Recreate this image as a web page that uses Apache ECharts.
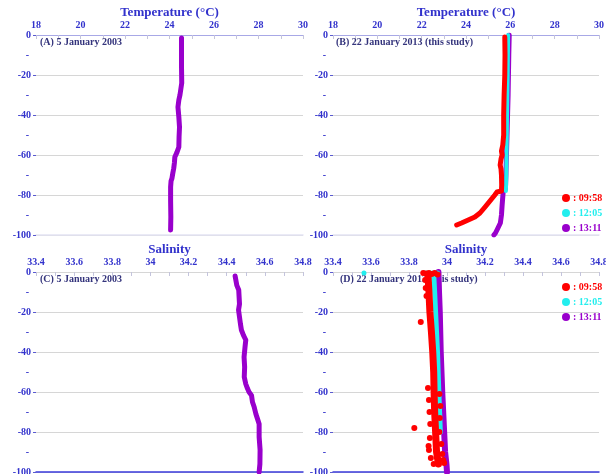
<!DOCTYPE html>
<html>
<head>
<meta charset="utf-8">
<script src="https://cdn.jsdelivr.net/npm/echarts@6/dist/echarts.min.js"></script>
<style>html,body{margin:0;padding:0;background:#fff}#c{width:606px;height:474px}</style>
</head>
<body>
<div id="c"></div>
<script>
// ---- Data ----
// Panel A: temperature, 5 January 2003
const depthA = [-1.5,-8,-16,-24,-30,-32.5,-36,-41,-46,-51,-56,-58.8,-61,-64,-66.7,-69,-71.7,-73,-76,-83,-91,-97.5];
const tempA  = [24.54,24.54,24.54,24.55,24.47,24.42,24.38,24.42,24.45,24.43,24.42,24.33,24.24,24.22,24.19,24.15,24.11,24.07,24.05,24.05,24.06,24.05];
// Panel B: temperature, 22 January 2013
const depthB1 = [-1,-10,-20,-30,-40,-50,-55,-58,-60,-62,-65,-67,-70,-75,-78,-78.5,-79,-80,-83,-86,-89,-91,-92.5,-94,-95];
const tempB1  = [25.75,25.76,25.75,25.72,25.70,25.70,25.66,25.60,25.63,25.58,25.54,25.58,25.60,25.61,25.60,25.40,25.35,25.30,25.08,24.86,24.63,24.40,24.10,23.80,23.58];
const depthB2 = [0,-20,-40,-60,-70,-78];
const tempB2  = [25.90,25.88,25.85,25.83,25.82,25.80];
const depthB3 = [0,-10,-30,-50,-70,-77,-78,-85,-90,-94,-97,-99,-100];
const tempB3  = [25.95,25.93,25.90,25.85,25.80,25.78,25.68,25.63,25.60,25.55,25.42,25.33,25.26];
// Panel C: salinity, 5 January 2003
const depthC = [-2,-6.7,-9,-16,-19,-22.5,-26,-29,-31.7,-34,-37.5,-42.5,-47.5,-52.5,-56,-58.3,-60,-61.7,-65,-67.5,-71,-73.3,-76,-82.5,-89,-96,-100];
const salC   = [34.444,34.453,34.463,34.467,34.462,34.467,34.472,34.477,34.488,34.5,34.496,34.491,34.494,34.492,34.5,34.509,34.517,34.53,34.535,34.544,34.553,34.561,34.57,34.57,34.575,34.574,34.57];
// Panel D: salinity, 22 January 2013
const depthD1 = [-2,-10,-20,-30,-40,-50,-60,-70,-80,-90,-96];
const salD1   = [33.90,33.905,33.91,33.918,33.925,33.93,33.932,33.935,33.94,33.945,33.955];
const dotDepthD1 = [-0.5,-0.8,-0.5,-1,-0.5,-1.2,-4,-8,-12,-25,-78,-87,-58,-61,-64,-67,-70,-73,-76,-80,-83,-86,-89,-91,-93,-94,-96,-95.5];
const dotSalD1   = [33.875,33.89,33.905,33.92,33.935,33.95,33.885,33.888,33.892,33.862,33.828,33.903,33.90,33.96,33.905,33.965,33.908,33.962,33.912,33.96,33.91,33.97,33.905,33.975,33.915,33.98,33.93,33.985];
const depthD2 = [-1,-10,-20,-40,-60,-75,-80];
const salD2   = [33.93,33.935,33.94,33.95,33.957,33.963,33.965];
const dotDepthD2 = [-0.5,-0.5,-0.5,-0.5,-0.5,-0.5,-0.5];
const dotSalD2   = [33.563,33.88,33.895,33.91,33.925,33.94,33.95];
const depthD3 = [0,-10,-20,-40,-60,-80,-90,-96,-100];
const salD3   = [33.955,33.958,33.962,33.967,33.975,33.985,33.99,33.997,34.0];

const times = ['09:58','12:05','13:11'];
const timeColors = ['#ff0000','#22eeee','#9900cc'];
const tempTitle = 'Temperature (°C)';
const salTitle = 'Salinity';
const panelLabels = ['(A) 5 January 2003','(B) 22 January 2013 (this study)','(C) 5 January 2003','(D) 22 January 2013 (this study)'];

// ---- Styles ----
const FONT = 'Liberation Serif';
const BLUE = '#3232cc';
const NAVY = '#34347c';
const zip = (xs, ys) => xs.map((x, i) => [x, ys[i]]);

const grids = [
  {left: 36, top: 35, width: 267, height: 200},
  {left: 333, top: 35, width: 266, height: 200},
  {left: 36, top: 272, width: 267, height: 200},
  {left: 333, top: 272, width: 266, height: 200}
].map(g => Object.assign({outerBoundsMode: 'none', containLabel: false}, g));

function topX(gi, min, max, interval, name, lineColor, showLine) {
  return {
    gridIndex: gi, type: 'value', position: 'top', min, max, interval,
    name, nameLocation: 'middle', nameGap: 16,
    nameTextStyle: {color: BLUE, fontFamily: FONT, fontWeight: 'bold', fontSize: 13},
    axisLine: {show: showLine, onZero: false, lineStyle: {color: lineColor, width: 1}},
    axisTick: {show: true, inside: true, length: 4, lineStyle: {color: '#c4c4dc'}},
    minorTick: {show: true, splitNumber: 2, length: 4, lineStyle: {color: '#c4c4dc'}},
    axisLabel: {color: BLUE, fontFamily: FONT, fontWeight: 'bold', fontSize: 10, margin: 5,
      formatter: v => String(Math.round(v * 10) / 10)},
    splitLine: {show: false}
  };
}
function bottomLine(gi, color) {
  return {gridIndex: gi, type: 'value', position: 'bottom', min: 0, max: 1,
    axisLine: {show: true, onZero: false, lineStyle: {color, width: 1.5}},
    axisTick: {show: false}, axisLabel: {show: false}, splitLine: {show: false}};
}
function mainY(gi) {
  return {
    gridIndex: gi, type: 'value', min: -100, max: 0, interval: 20, position: 'left',
    axisLine: {show: false, onZero: false},
    axisTick: {show: true, length: 3, lineStyle: {color: '#5a5ad0'}},
    axisLabel: {color: BLUE, fontFamily: FONT, fontWeight: 'bold', fontSize: 10, margin: 5},
    splitLine: {show: true, lineStyle: {color: '#d6d6d6', width: 1}}
  };
}
function dashY(gi) {
  return {
    gridIndex: gi, type: 'value', min: -100, max: 0, interval: 10, position: 'left',
    axisLine: {show: false, onZero: false}, axisTick: {show: false}, splitLine: {show: false},
    axisLabel: {color: BLUE, fontFamily: FONT, fontWeight: 'bold', fontSize: 10, margin: 7,
      formatter: v => (Math.round(v) % 20 !== 0 ? '-' : '')}
  };
}

const xAxis = [
  topX(0, 18, 30, 2, tempTitle, '#a8a8e6', true),
  topX(1, 18, 30, 2, tempTitle, '#a8a8e6', true),
  topX(2, 33.4, 34.8, 0.2, salTitle, '#ffffff', false),
  topX(3, 33.4, 34.8, 0.2, salTitle, '#ffffff', false),
  bottomLine(0, '#e4e4f4'),
  bottomLine(1, '#e4e4f4'),
  bottomLine(2, '#3b3bdc'),
  bottomLine(3, '#3b3bdc')
];
const yAxis = [mainY(0), mainY(1), mainY(2), mainY(3), dashY(0), dashY(1), dashY(2), dashY(3)];

function lineSeries(name, xi, data, color, width) {
  return {name, type: 'line', xAxisIndex: xi, yAxisIndex: xi, data, showSymbol: false, symbol: 'none',
    lineStyle: {color, width, cap: 'round', join: 'round'}, itemStyle: {color}, z: 3, silent: true, animation: false};
}
function dotSeries(name, xi, data, color, size) {
  return {name, type: 'scatter', xAxisIndex: xi, yAxisIndex: xi, data, symbol: 'circle', symbolSize: size,
    itemStyle: {color, opacity: 1}, z: 4, silent: true, animation: false};
}

const series = [
  lineSeries('2003', 0, zip(tempA, depthA), timeColors[2], 5),
  lineSeries(times[2], 1, zip(tempB3, depthB3), timeColors[2], 5),
  lineSeries(times[1], 1, zip(tempB2, depthB2), timeColors[1], 4),
  lineSeries(times[0], 1, zip(tempB1, depthB1), timeColors[0], 5),
  lineSeries('2003', 2, zip(salC, depthC), timeColors[2], 5),
  lineSeries(times[2], 3, zip(salD3, depthD3), timeColors[2], 6),
  lineSeries(times[1], 3, zip(salD2, depthD2), timeColors[1], 5),
  dotSeries(times[1], 3, zip(dotSalD2, dotDepthD2), timeColors[1], 5),
  lineSeries(times[0], 3, zip(salD1, depthD1), timeColors[0], 7),
  dotSeries(times[0], 3, zip(dotSalD1, dotDepthD1), timeColors[0], 6)
];

function legend(top) {
  return {
    orient: 'vertical', left: 557, top, itemWidth: 8, itemHeight: 8, itemGap: 5,
    icon: 'circle', formatter: ': {name}', selectedMode: false,
    textStyle: {fontFamily: FONT, fontWeight: 'bold', fontSize: 10, lineHeight: 10, padding: [0,0,0,-2]},
    data: times.map((t, i) => ({name: t, itemStyle: {color: timeColors[i]}, textStyle: {color: timeColors[i]}}))
  };
}

const titlePos = [[40, 37], [336, 37], [40, 274], [340, 274]];
const title = panelLabels.map((t, i) => ({
  text: t, left: titlePos[i][0], top: titlePos[i][1], padding: 0, z: 1,
  textStyle: {color: NAVY, fontFamily: FONT, fontWeight: 'bold', fontSize: 10}
}));

const chart = echarts.init(document.getElementById('c'), null, {renderer: 'canvas'});
chart.setOption({
  animation: false,
  backgroundColor: '#ffffff',
  textStyle: {fontFamily: FONT},
  title,
  legend: [legend(188), legend(277)],
  grid: grids,
  xAxis, yAxis, series
});
</script>
</body>
</html>
